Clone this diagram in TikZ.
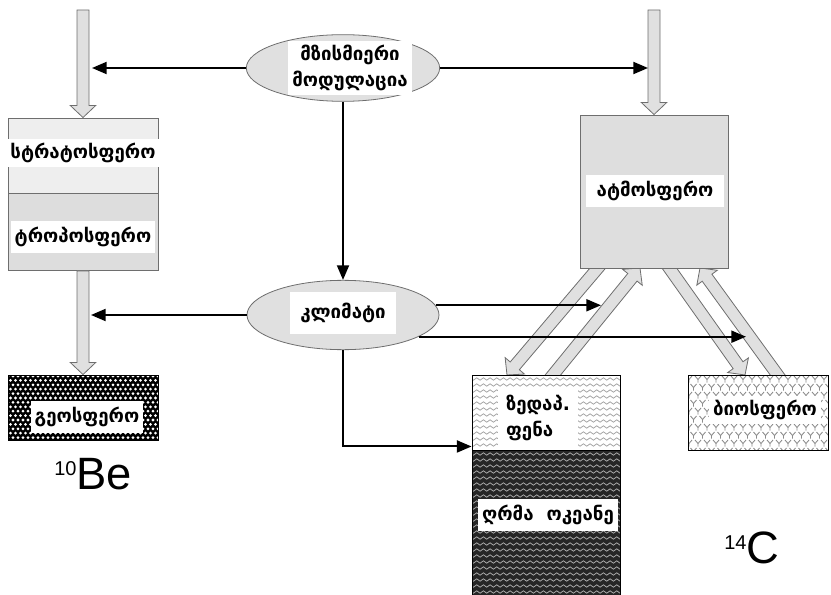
\documentclass[tikz,border=0pt]{standalone}
\usepackage{fontspec}
\setmainfont{Liberation Sans}
\newfontfamily\geofont{DejaVu Sans}
\usetikzlibrary{shapes.geometric,calc,arrows.meta,decorations.pathmorphing}
\definecolor{lgray}{HTML}{E0E0E0}
\definecolor{bordergray}{HTML}{6E6E6E}
\tikzset{
  lbl/.style={font=\geofont\bfseries\fontsize{14}{20}\selectfont, fill=white, inner xsep=3pt, inner ysep=4.5pt},
  oval/.style={ellipse, draw=bordergray, fill=lgray, line width=0.6pt},
  boxx/.style={rectangle, draw=bordergray, line width=0.7pt},
  conn/.style={line width=1.5pt, -{Triangle[length=11pt,width=9pt]}},
  blk/.style={draw=bordergray, fill=lgray, line width=0.6pt, line join=miter},
  wave/.style={decorate, decoration={snake, amplitude=0.9pt, segment length=5pt}},
  bignum/.style={font=\fontsize{34}{34}\selectfont, anchor=base west, inner sep=0pt},
}
\newcommand\bigarrow[2]{%
  \coordinate (bcC) at ($(#2)!9pt!(#1)$);
  \draw[blk] ($(#1)!4.5pt!90:(#2)$) -- ($(bcC)!4.5pt!90:(#2)$) -- ($(bcC)!9.5pt!90:(#2)$) -- (#2)
    -- ($(bcC)!9.5pt!-90:(#2)$) -- ($(bcC)!4.5pt!-90:(#2)$) -- ($(#1)!4.5pt!-90:(#2)$) -- cycle;
}
\begin{document}
\begin{tikzpicture}[x=0.75pt,y=-0.75pt]
\useasboundingbox (0,0) rectangle (831,595);
% diagonal exchange arrows (drawn first, boxes cover their roots)
\coordinate (d1a) at (603,262); \coordinate (d1b) at (507,375);
\coordinate (d2a) at (548,381); \coordinate (d2b) at (640,268);
\coordinate (d3a) at (665,262); \coordinate (d3b) at (745,375);
\coordinate (d4a) at (782,381); \coordinate (d4b) at (700,268);
\bigarrow{d1a}{d1b}
\bigarrow{d2a}{d2b}
\bigarrow{d3a}{d3b}
\bigarrow{d4a}{d4b}
% layered boxes
\node[boxx, fill=gray!13, minimum width=112.5pt, minimum height=56.25pt] (strat) at (83,155.5) {};
\node[boxx, fill=gray!27, minimum width=112.5pt, minimum height=57.75pt] (trop) at (83,232) {};
\node[boxx, fill=gray!26, minimum width=111pt, minimum height=114.75pt] (atm) at (654,191.5) {};
% geosphere pattern
\begin{scope}
  \clip (8,375) rectangle (158,440);
  \fill[black] (8,375) rectangle (158,440);
  \foreach \r in {0,...,15}{\foreach \c in {0,...,31}{
    \fill[white] ({8+\c*5+mod(\r,2)*2.5},{376+\r*4.4}) circle (1.15pt);}}
\end{scope}
% surface layer pattern
\begin{scope}
  \clip (472,375) rectangle (620,450);
  \fill[white] (472,375) rectangle (620,450);
  \foreach \y in {379,385,...,450}{\draw[gray!75, line width=0.55pt, wave] (468,\y) -- (624,\y);}
\end{scope}
% deep ocean pattern
\begin{scope}
  \clip (472,450) rectangle (620,596);
  \fill[black!85] (472,450) rectangle (620,596);
  \foreach \y in {454,460,...,598}{\draw[white!70!black, line width=0.55pt, wave] (468,\y) -- (624,\y);}
\end{scope}
% biosphere pattern
\begin{scope}
  \clip (688,375) rectangle (828,450);
  \fill[white] (688,375) rectangle (828,450);
  \foreach \r in {0,...,9}{\foreach \c in {0,...,16}{
    \draw[gray!90, line width=0.65pt] ({686+\c*9+mod(\r,2)*4.5},{376+\r*8}) -- ++(3,3.5) -- ++(3,-3.5) ++(-3,3.5) -- ++(0,3);}}
\end{scope}
\node[boxx, draw=black, minimum width=112.5pt, minimum height=48.75pt] (geo) at (83,407.5) {};
\node[boxx, draw=black, minimum width=111pt, minimum height=56.25pt] (surf) at (546,412.5) {};
\node[boxx, draw=black, minimum width=111pt, minimum height=109.5pt] (deep) at (546,523) {};
\node[boxx, draw=black, minimum width=105pt, minimum height=56.25pt] (bio) at (758,412.5) {};
% ellipses
\node[oval, minimum width=145pt, minimum height=50pt] (sun) at (343,68) {};
\node[oval, minimum width=144pt, minimum height=52pt] (clim) at (343,315) {};
% vertical block arrows
\coordinate (ltop) at (83,10);
\coordinate (rtop) at (654,10);
\bigarrow{ltop}{strat.north}
\bigarrow{rtop}{atm.north}
\bigarrow{trop.south}{geo.north}
% labels
\node[lbl, align=center, inner ysep=3pt] (sunl) at (350,68) {მზისმიერი\\მოდულაცია};
\node[lbl, inner xsep=8pt, inner ysep=8pt] (climl) at (343,313) {კლიმატი};
\node[lbl, inner ysep=3pt] (stratl) at (83,153) {სტრატოსფერო};
\node[lbl] (tropl) at (83,237) {ტროპოსფერო};
\node[lbl, inner xsep=8pt] (atml) at (655,191) {ატმოსფერო};
\node[lbl] (geol) at (87,417) {გეოსფერო};
\node[lbl, align=left, inner xsep=6pt] (surfl) at (538,418) {ზედაპ.\\ფენა};
\node[lbl] (deepl) at (548,515) {ღრმა\ \ ოკეანე};
\node[lbl, inner ysep=3pt] (biol) at (765,410) {ბიოსფერო};
% connectors
\coordinate (lt1) at (92,68);
\coordinate (rt1) at (648,68);
\coordinate (lt2) at (91,315);
\coordinate (rt2) at (601,305);
\coordinate (rt3) at (746,337);
\draw[conn] (sun.west) -- (lt1);
\draw[conn] (sun.east) -- (rt1);
\draw[conn] (sun.south) -- (clim.north);
\draw[conn] (clim.west) -- (lt2);
\draw[conn] (clim.6) -- (clim.6 -| rt2);
\draw[conn] (clim.-16) -- (clim.-16 -| rt3);
\draw[conn] (clim.south) |- ($(surf.south west)+(0,-4)$);
% isotope labels
\node[bignum] (be) at (54,489) {\raisebox{10pt}{\fontsize{15}{15}\selectfont 10}Be};
\node[bignum] (cc) at (724,563) {\raisebox{10pt}{\fontsize{15}{15}\selectfont 14}C};
\end{tikzpicture}
\end{document}
